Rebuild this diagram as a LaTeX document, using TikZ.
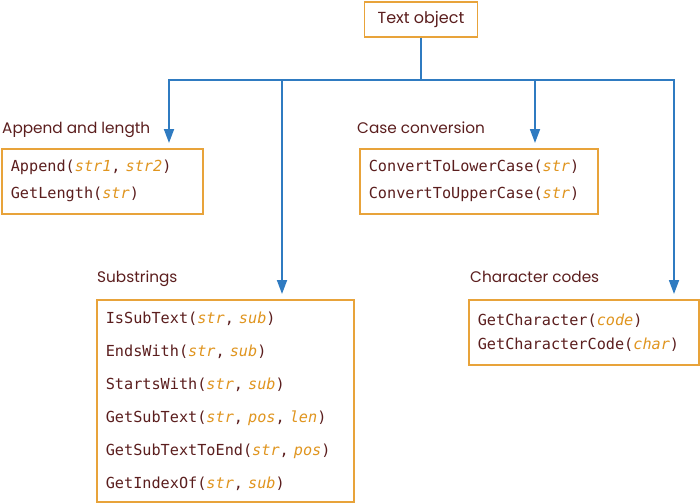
\documentclass[tikz,border=0pt]{standalone}
\usepackage{fontspec}
\usepackage{xcolor}
\usepackage{tikz}
\usetikzlibrary{arrows.meta,positioning}
\newfontfamily\headfont{Poppins}
\newfontfamily\codefont{DejaVu Sans Mono}
\definecolor{DarkText}{RGB}{91,30,30}
\definecolor{ArgOrange}{RGB}{224,149,31}
\definecolor{BoxOrange}{RGB}{232,163,58}
\definecolor{LinkBlue}{RGB}{47,123,193}
\newcommand{\param}[1]{\textcolor{ArgOrange}{\itshape #1}}

\begin{document}
\begin{tikzpicture}[
  x=1pt, y=-1pt,
  box/.style={
    draw=BoxOrange,
    line width=1.6pt,
    fill=white,
    anchor=north west,
    align=left,
    inner xsep=9pt,
    inner ysep=0pt,
    text=DarkText
  },
  heading/.style={anchor=base west, inner sep=0pt, text=DarkText,
    font=\headfont\fontsize{15.3}{18}\selectfont},
  link/.style={draw=LinkBlue, line width=1.8pt},
  arrow/.style={link, -{Triangle[length=14pt,width=10pt]}, shorten >=5pt},
  font=\codefont\fontsize{15.2}{27}\selectfont
]
\useasboundingbox (0,0) rectangle (700,503);

\node[box, anchor=north, minimum width=113pt, minimum height=35pt,
  font=\headfont\fontsize{16}{18}\selectfont] (top) at (421,1) {Text object};

% groups and their boxes
\node[heading] (appHead) at (2,133) {Append and length};
\node[box, text width=183pt, minimum height=65pt] (app) at (1,148)
  {Append(\param{str1}, \param{str2})\\
   GetLength(\param{str})};

\node[heading] (caseHead) at (357,133) {Case conversion};
\node[box, text width=220pt, minimum height=65pt] (case) at (359,148)
  {ConvertToLowerCase(\param{str})\\
   ConvertToUpperCase(\param{str})};

\node[heading] (subHead) at (97,282) {Substrings};
\node[box, text width=239pt, minimum height=202pt,
  font=\codefont\fontsize{15.2}{33}\selectfont] (sub) at (96,299)
  {IsSubText(\param{str}, \param{sub})\\
   EndsWith(\param{str}, \param{sub})\\
   StartsWith(\param{str}, \param{sub})\\
   GetSubText(\param{str}, \param{pos}, \param{len})\\
   GetSubTextToEnd(\param{str}, \param{pos})\\
   GetIndexOf(\param{str}, \param{sub})};

\node[heading] (chrHead) at (470,282) {Character codes};
\node[box, text width=212pt, minimum height=65pt,
  font=\codefont\fontsize{15.2}{24}\selectfont] (chr) at (468,299)
  {GetCharacter(\param{code})\\
   GetCharacterCode(\param{char})};

% connectors
\coordinate (busC) at (421,80);
\coordinate (busL) at (169,80);
\coordinate (busS) at (282,80);
\coordinate (busK) at (535,80);
\coordinate (busR) at (674,80);
\draw[arrow] (top.south) -- (busC) -- (busL) -- (busL |- app.north);
\draw[arrow] (busC) -- (busR) -- (busR |- chr.north);
\draw[arrow] (busS) -- (busS |- sub.north);
\draw[arrow] (busK) -- (busK |- case.north);
\end{tikzpicture}
\end{document}
